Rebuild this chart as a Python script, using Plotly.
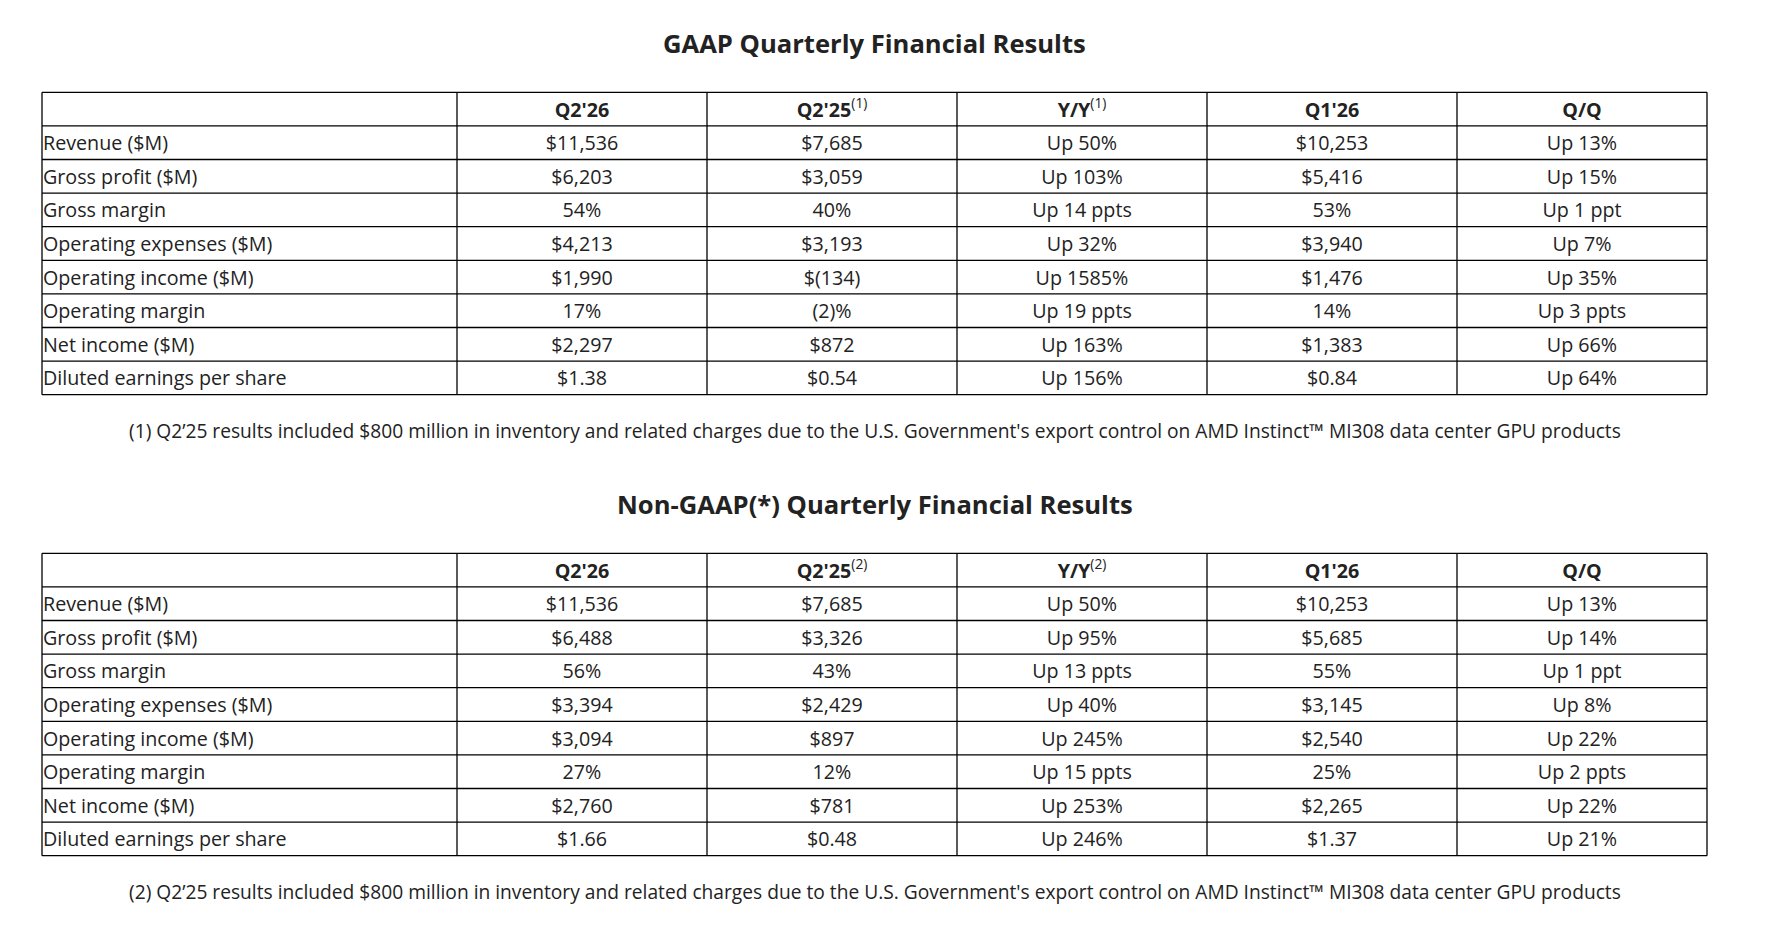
"""GAAP / Non-GAAP quarterly results drawn as two plain tables."""

import plotly.graph_objects as go

# ---- data -----------------------------------------------------------------

ROW_LABELS = [
    "Revenue ($M)", "Gross profit ($M)", "Gross margin",
    "Operating expenses ($M)", "Operating income ($M)", "Operating margin",
    "Net income ($M)", "Diluted earnings per share",
]

GAAP_HEADERS = ["Q2'26", "Q2'25|(1)", "Y/Y|(1)", "Q1'26", "Q/Q"]
GAAP_Q2_26 = ["$11,536", "$6,203", "54%", "$4,213", "$1,990", "17%", "$2,297", "$1.38"]
GAAP_Q2_25 = ["$7,685", "$3,059", "40%", "$3,193", "$(134)", "(2)%", "$872", "$0.54"]
GAAP_YY = ["Up 50%", "Up 103%", "Up 14 ppts", "Up 32%", "Up 1585%", "Up 19 ppts",
           "Up 163%", "Up 156%"]
GAAP_Q1_26 = ["$10,253", "$5,416", "53%", "$3,940", "$1,476", "14%", "$1,383", "$0.84"]
GAAP_QQ = ["Up 13%", "Up 15%", "Up 1 ppt", "Up 7%", "Up 35%", "Up 3 ppts",
           "Up 66%", "Up 64%"]

NG_HEADERS = ["Q2'26", "Q2'25|(2)", "Y/Y|(2)", "Q1'26", "Q/Q"]
NG_Q2_26 = ["$11,536", "$6,488", "56%", "$3,394", "$3,094", "27%", "$2,760", "$1.66"]
NG_Q2_25 = ["$7,685", "$3,326", "43%", "$2,429", "$897", "12%", "$781", "$0.48"]
NG_YY = ["Up 50%", "Up 95%", "Up 13 ppts", "Up 40%", "Up 245%", "Up 15 ppts",
         "Up 253%", "Up 246%"]
NG_Q1_26 = ["$10,253", "$5,685", "55%", "$3,145", "$2,540", "25%", "$2,265", "$1.37"]
NG_QQ = ["Up 13%", "Up 14%", "Up 1 ppt", "Up 8%", "Up 22%", "Up 2 ppts",
         "Up 22%", "Up 21%"]

NOTE_TAIL = ("Q2’25 results included $800 million in inventory and related charges "
             "due to the U.S. Government's export control on AMD Instinct™ MI308 "
             "data center GPU products")

TABLES = [
    dict(title="GAAP Quarterly Financial Results", headers=GAAP_HEADERS,
         cols=[GAAP_Q2_26, GAAP_Q2_25, GAAP_YY, GAAP_Q1_26, GAAP_QQ],
         note="(1) " + NOTE_TAIL, top=92.3),
    dict(title="Non-GAAP(*) Quarterly Financial Results", headers=NG_HEADERS,
         cols=[NG_Q2_26, NG_Q2_25, NG_YY, NG_Q1_26, NG_QQ],
         note="(2) " + NOTE_TAIL, top=553.3),
]

# ---- layout constants (page pixels) --------------------------------------

W, H = 1770, 925
PAGE_OFF = 8          # default body margin of the html page
LEFT = 42
LABEL_W = 415
COL_W = 250
ROW_H = 33.6
TEXT_DY = 2.5         # cell text sits a bit below the row centre
FONT = "Open Sans, Noto Sans, sans-serif"
INK = "#222"
FS = 19.7
FS_NOTE = 19.2
FS_TITLE = 25.6
LINE = dict(color="#000", width=1.3)


def header_html(h):
    main, _, sup = h.partition("|")
    return f"<b>{main}</b>" + (f"<sup>{sup}</sup>" if sup else "")


fig = go.Figure()
shapes = []
annotations = []

for t in TABLES:
    top = t["top"]
    n_rows = len(ROW_LABELS) + 1
    bottom = top + n_rows * ROW_H
    right = LEFT + LABEL_W + COL_W * len(t["cols"])
    centers_y = [top + (i + 0.5) * ROW_H + TEXT_DY for i in range(n_rows)]
    col_x = [LEFT + LABEL_W + (j + 0.5) * COL_W for j in range(len(t["cols"]))]

    # grid
    for i in range(n_rows + 1):
        y = top + i * ROW_H
        shapes.append(dict(type="line", xref="x", yref="y", x0=LEFT, x1=right,
                           y0=y, y1=y, line=LINE))
    edges = [LEFT] + [LEFT + LABEL_W + j * COL_W for j in range(len(t["cols"]) + 1)]
    for x in edges:
        shapes.append(dict(type="line", xref="x", yref="y", x0=x, x1=x,
                           y0=top, y1=bottom, line=LINE))

    # header row
    fig.add_trace(go.Scatter(
        x=col_x, y=[centers_y[0]] * len(col_x), mode="text",
        text=[header_html(h) for h in t["headers"]], textposition="middle center",
        textfont=dict(family=FONT, size=FS, color=INK),
        hoverinfo="skip", showlegend=False,
    ))
    # row labels
    fig.add_trace(go.Scatter(
        x=[LEFT + 1] * len(ROW_LABELS), y=centers_y[1:], mode="text",
        text=ROW_LABELS, textposition="middle right",
        textfont=dict(family=FONT, size=FS, color=INK),
        hoverinfo="skip", showlegend=False,
    ))
    # values
    for cx, values in zip(col_x, t["cols"]):
        fig.add_trace(go.Scatter(
            x=[cx] * len(values), y=centers_y[1:], mode="text",
            text=values, textposition="middle center",
            textfont=dict(family=FONT, size=FS, color=INK),
            hoverinfo="skip", showlegend=False,
        ))

    annotations.append(dict(x=(LEFT + right) / 2, y=top - 48.5, xref="x", yref="y",
                            text=f"<b>{t['title']}</b>", showarrow=False,
                            font=dict(family=FONT, size=FS_TITLE, color=INK)))
    annotations.append(dict(x=(LEFT + right) / 2, y=bottom + 36, xref="x", yref="y",
                            text=t["note"], showarrow=False,
                            font=dict(family=FONT, size=FS_NOTE, color=INK)))

fig.update_layout(
    width=W, height=H,
    margin=dict(l=0, r=0, t=0, b=0),
    paper_bgcolor="white", plot_bgcolor="white",
    xaxis=dict(range=[PAGE_OFF, W + PAGE_OFF], visible=False, fixedrange=True),
    yaxis=dict(range=[H + PAGE_OFF, PAGE_OFF], visible=False, fixedrange=True),
    shapes=shapes, annotations=annotations,
)
fig.write_html("out.html")
